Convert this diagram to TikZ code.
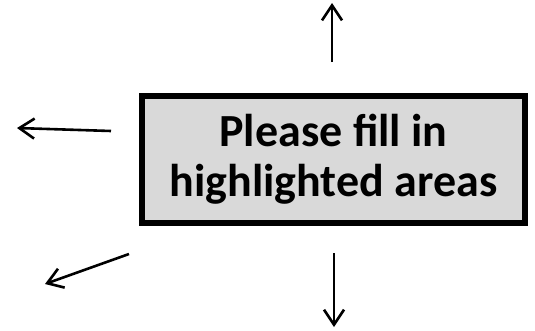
\documentclass[tikz,border=0pt]{standalone}
\usepackage{fontspec}
\setmainfont{Carlito}
\usetikzlibrary{arrows.meta}
\definecolor{hlgrey}{HTML}{D9D9D9}
\tikzset{
  notebox/.style={draw=black, line width=6pt, fill=hlgrey, align=center,
                  minimum width=383pt, minimum height=127pt, inner sep=0pt,
                  font=\fontsize{46}{50}\selectfont\bfseries},
  pointer/.style={-{Straight Barb[length=15pt,width=20pt]}, line width=2.6pt, draw=black},
}

\begin{document}
\begin{tikzpicture}[x=1pt,y=-1pt]
  \useasboundingbox (0,0) rectangle (535,330);

  % ---- centre box ----
  \node[notebox] (note) at (333.5,159.5) {Please fill in\\highlighted areas};

  % ---- free arrow ends ----
  \coordinate (upfrom)   at (332,62);
  \coordinate (upto)     at (332,3);
  \coordinate (leftfrom) at (111,131);
  \coordinate (leftto)   at (17,128);
  \coordinate (diagfrom) at (129,254);
  \coordinate (diagto)   at (45,284);
  \coordinate (downfrom) at (334,253);
  \coordinate (downto)   at (334,327);

  % ---- pointers ----
  \draw[pointer] (upfrom) -- (upto);
  \draw[pointer] (leftfrom) -- (leftto);
  \draw[pointer] (diagfrom) -- (diagto);
  \draw[pointer] (downfrom) -- (downto);

\end{tikzpicture}
\end{document}
